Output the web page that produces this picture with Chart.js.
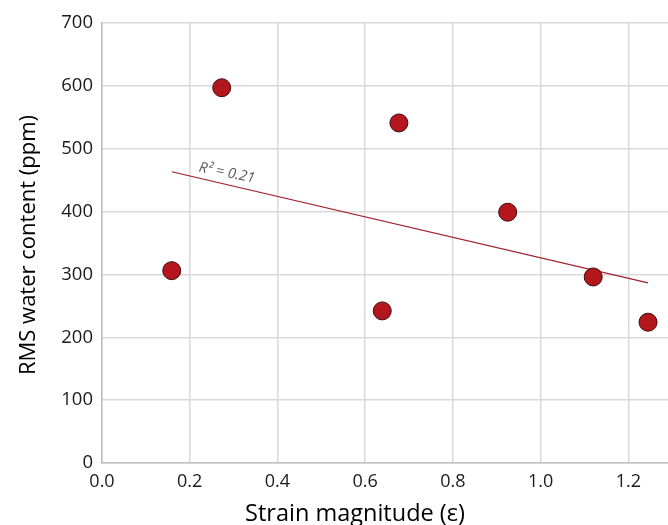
<!DOCTYPE html>
<html>
<head>
<meta charset="utf-8">
<script src="https://cdn.jsdelivr.net/npm/chart.js@4/dist/chart.umd.min.js"></script>
<style>
  html, body { margin: 0; padding: 0; background: #fff; overflow: hidden; }
  #wrap { width: 726px; height: 525px; }
</style>
</head>
<body>
<div id="wrap"><canvas id="strain-chart" width="726" height="525"></canvas></div>
<script>
const strain = [0.159, 0.273, 0.639, 0.677, 0.925, 1.120, 1.245];
const water = [306, 597, 242, 541, 399, 296, 224];
const xTicks = [0, 0.2, 0.4, 0.6, 0.8, 1.0, 1.2];
const yTicks = [0, 100, 200, 300, 400, 500, 600, 700];

// least squares trend line over the measured points
const n = strain.length;
const mx = strain.reduce((a, b) => a + b, 0) / n;
const my = water.reduce((a, b) => a + b, 0) / n;
let sxy = 0, sxx = 0, syy = 0;
for (let i = 0; i < n; i++) {
    sxy += (strain[i] - mx) * (water[i] - my);
    sxx += (strain[i] - mx) ** 2;
    syy += (water[i] - my) ** 2;
}
const slope = sxy / sxx;
const icept = my - slope * mx;
const r2 = (sxy * sxy) / (sxx * syy);
const xMin = Math.min(...strain), xMax = Math.max(...strain);
const trend = [
    { x: xMin, y: icept + slope * xMin },
    { x: xMax, y: icept + slope * xMax }
];

const FONT = "'Open Sans', 'Noto Sans', sans-serif";

const labels = {
    id: 'labels',
    afterDraw(chart) {
        const { ctx, chartArea, scales } = chart;
        ctx.save();
        // r-squared note along the trend line
        const lx = 0.215;
        const px = scales.x.getPixelForValue(lx);
        const py = scales.y.getPixelForValue(icept + slope * lx);
        ctx.translate(px + 2, py - 6);
        ctx.rotate(0.2);
        ctx.font = "italic 14.5px " + FONT;
        ctx.fillStyle = '#595959';
        ctx.textAlign = 'left';
        ctx.textBaseline = 'alphabetic';
        ctx.fillText('R² = ' + r2.toFixed(2), 0, 0);
        ctx.restore();

        ctx.save();
        ctx.fillStyle = '#000';
        ctx.textAlign = 'center';
        ctx.textBaseline = 'alphabetic';
        ctx.font = "23.5px " + FONT;
        ctx.fillText('Strain magnitude (ε)', chartArea.left + 253, chartArea.bottom + 58);
        ctx.font = "22px " + FONT;
        ctx.translate(35, (chartArea.top + chartArea.bottom) / 2 + 2);
        ctx.rotate(-Math.PI / 2);
        ctx.fillText('RMS water content (ppm)', 0, 0);
        ctx.restore();
    }
};

new Chart(document.getElementById('strain-chart'), {
    type: 'scatter',
    data: {
        datasets: [{
            label: 'RMS water',
            data: strain.map((x, i) => ({ x: x, y: water[i] })),
            backgroundColor: '#b3161d',
            borderColor: '#3c0b0b',
            borderWidth: 1,
            pointRadius: 9,
            order: 1
        },
        {
            label: 'Trend',
            type: 'line',
            data: trend,
            borderColor: '#a3202c',
            borderWidth: 1.2,
            pointRadius: 0,
            fill: false,
            order: 2
        }]
    },
    options: {
        responsive: false,
        animation: false,
        layout: { padding: { top: 23, left: 0, right: 0, bottom: 0 } },
        plugins: {
            legend: { display: false },
            tooltip: { enabled: false }
        },
        scales: {
            x: {
                type: 'linear',
                min: 0,
                max: 1.4,
                afterBuildTicks: (scale) => { scale.ticks = xTicks.concat([1.4]).map(v => ({ value: v })); },
                afterFit: (scale) => { scale.height = 62; },
                grid: { color: '#d9d9d9', lineWidth: 1.5, drawTicks: false },
                border: { color: '#bfbfbf', width: 1.5 },
                ticks: {
                    padding: 8,
                    color: '#1a1a1a',
                    font: { family: FONT, size: 18 },
                    maxRotation: 0,
                    callback: (v) => v > 1.3 ? '' : v.toFixed(1)
                }
            },
            y: {
                min: 0,
                max: 700,
                afterBuildTicks: (scale) => { scale.ticks = yTicks.map(v => ({ value: v })); },
                afterFit: (scale) => { scale.width = 102; },
                grid: { color: '#d9d9d9', lineWidth: 1.5, drawTicks: false },
                border: { color: '#bfbfbf', width: 1.5 },
                ticks: {
                    padding: 9,
                    color: '#1a1a1a',
                    font: { family: FONT, size: 18.5 }
                }
            }
        }
    },
    plugins: [labels]
});
</script>
</body>
</html>
